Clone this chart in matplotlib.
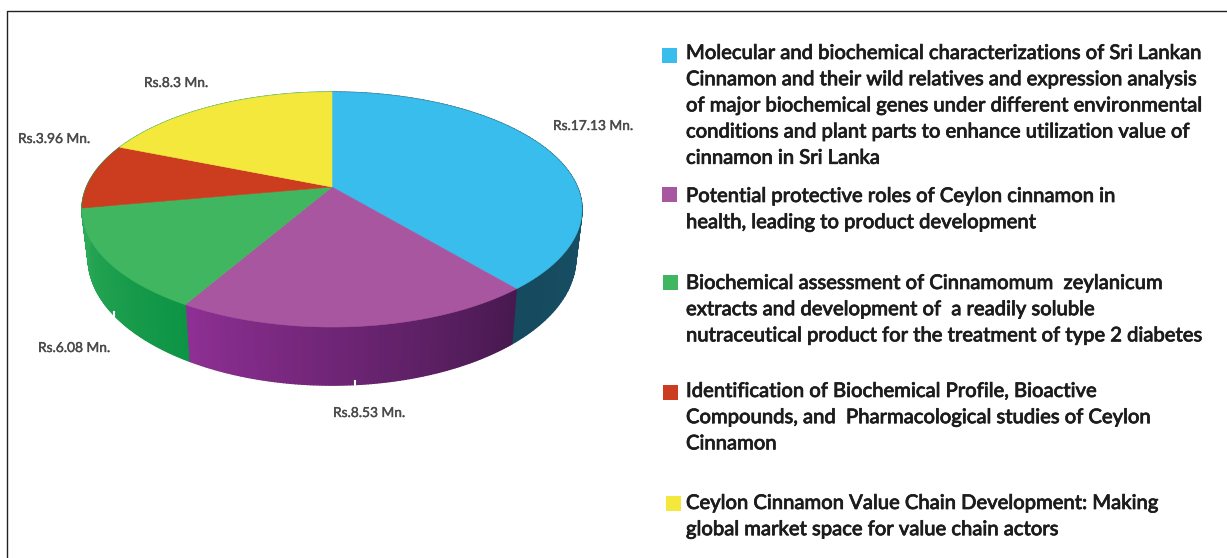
import numpy as np
import matplotlib
matplotlib.use('Agg')
import matplotlib.pyplot as plt
import matplotlib.patheffects as pe
from matplotlib.colors import to_rgb
from matplotlib.patches import Polygon, Rectangle

plt.rcParams['font.family'] = ['Lato', 'DejaVu Sans']

# Funding per project, clockwise from twelve o'clock (Rs. Mn.)
funding = [17.13, 8.53, 6.08, 3.96, 8.3]
value_labels = ['Rs.17.13 Mn.', 'Rs.8.53 Mn.', 'Rs.6.08 Mn.', 'Rs.3.96 Mn.', 'Rs.8.3 Mn.']
top_colors = ['#39BDEC', '#A8569F', '#3FB65F', '#CC3D20', '#F4E83C']
side_colors = [('#1B5E75', '#164A5E'), ('#47194F', '#8E2F94'), ('#0D9445', '#2DAA58'),
               ('#2DAA58', '#2DAA58'), ('#2DAA58', '#2DAA58')]

project_1 = ['Molecular and biochemical characterizations of Sri Lankan',
             'Cinnamon and their wild relatives and expression analysis',
             'of major biochemical genes under different environmental',
             'conditions and plant parts to enhance utilization value of',
             'cinnamon in Sri Lanka']
project_2 = ['Potential protective roles of Ceylon cinnamon in',
             'health, leading to product development']
project_3 = ['Biochemical assessment of Cinnamomum  zeylanicum',
             'extracts and development of  a readily soluble',
             'nutraceutical product for the treatment of type 2 diabetes']
project_4 = ['Identification of Biochemical Profile, Bioactive',
             'Compounds, and  Pharmacological studies of Ceylon',
             'Cinnamon']
project_5 = ['Ceylon Cinnamon Value Chain Development: Making',
             'global market space for value chain actors']
projects = [project_1, project_2, project_3, project_4, project_5]

# Pie geometry in picture pixels, the disc is seen in perspective
center_x, center_y = 332, 187
radius_x, radius_y = 245.4, 113.2
persp = 0.1915
depth = 47
shrink = 0.975


def top_point(theta):
    u, v = np.sin(theta), -np.cos(theta)
    d = 1 - persp * v
    return center_x + radius_x * u / d, center_y + radius_y * v / d


def bottom_point(theta):
    x, y = top_point(theta)
    d = 1 + persp * np.cos(theta)
    return center_x + (x - center_x) * shrink, y + depth / d


fig = plt.figure(figsize=(12.27, 5.58), dpi=100)
ax = fig.add_axes([0, 0, 1, 1])
ax.set_xlim(0, 1227)
ax.set_ylim(558, 0)
ax.axis('off')

edges = np.cumsum([0] + funding) / sum(funding) * 2 * np.pi

# Outer rim first, the top face covers whatever faces away
for i in range(len(funding)):
    angles = np.linspace(edges[i], edges[i + 1], 120)
    c0, c1 = to_rgb(side_colors[i][0]), to_rgb(side_colors[i][1])
    for j in range(len(angles) - 1):
        t = j / (len(angles) - 2)
        colour = [a + (b - a) * t for a, b in zip(c0, c1)]
        pts = [top_point(angles[j]), top_point(angles[j + 1]),
               bottom_point(angles[j + 1]), bottom_point(angles[j])]
        ax.add_patch(Polygon(pts, closed=True, facecolor=colour, edgecolor=colour, lw=1.0, zorder=2))

# Top face
for i in range(len(funding)):
    angles = np.linspace(edges[i], edges[i + 1], 200)
    pts = [(center_x, center_y)] + [top_point(a) for a in angles]
    ax.add_patch(Polygon(pts, closed=True, facecolor=top_colors[i], edgecolor=top_colors[i], lw=0.4, zorder=3))

# Value labels
label_x = [553, 333, 38, 18, 144]
label_y = [126, 413, 348, 139, 83]
for text, x, y in zip(value_labels, label_x, label_y):
    ax.text(x, y, text, fontsize=9.9, color='#4a4a4a', ha='left', va='center', zorder=5,
            path_effects=[pe.withStroke(linewidth=0.3, foreground='#4a4a4a')])

# White leader stubs
ax.plot([355, 355], [381, 386], color='white', lw=1.5, zorder=4)
ax.plot([114, 114], [312, 320], color='white', lw=1.5, zorder=4)

# Legend
swatch_x = [662, 662, 663, 663, 666]
swatch_y = [48, 187, 275, 385, 496]
first_baseline = [59, 202, 289, 397, 509]
for i, lines in enumerate(projects):
    ax.add_patch(Rectangle((swatch_x[i], swatch_y[i]), 15, 15, facecolor=top_colors[i], edgecolor='none', zorder=3))
    for k, line in enumerate(lines):
        ax.text(686, first_baseline[i] + 26.2 * k, line, fontsize=14.55, color='#1c1c1c',
                fontweight='medium', ha='left', va='baseline', zorder=5,
                path_effects=[pe.withStroke(linewidth=0.5, foreground='#1c1c1c')])

# Frame of the page
ax.plot([7, 7, 1227], [558, 11, 11], color='#222222', lw=1, zorder=6)

fig.savefig('out.png', dpi=100)
